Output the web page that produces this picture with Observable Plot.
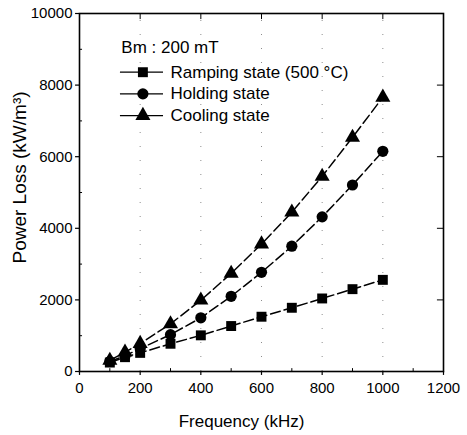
<!DOCTYPE html>
<html>
<head>
<meta charset="utf-8">
<script src="https://cdn.jsdelivr.net/npm/d3@7"></script>
<script src="https://cdn.jsdelivr.net/npm/@observablehq/plot@0.6"></script>
<style>
  html, body { margin: 0; padding: 0; background: #fff; }
  #chart svg { display: block; }
</style>
</head>
<body>
<div id="chart"></div>
<script>
const freq = [100, 150, 200, 300, 400, 500, 600, 700, 800, 900, 1000];
const ramping = [250, 400, 520, 775, 1010, 1270, 1530, 1780, 2040, 2300, 2560];
const holding = [280, 440, 640, 1030, 1500, 2100, 2770, 3500, 4320, 5210, 6150];
const cooling = [310, 540, 780, 1330, 1990, 2740, 3560, 4450, 5450, 6540, 7660];
const seriesNames = ["Ramping state (500 \u00B0C)", "Holding state", "Cooling state"];
const seriesSymbols = ["square", "circle", "triangle"];
const xTicks = [0, 200, 400, 600, 800, 1000, 1200];
const yTicks = [0, 2000, 4000, 6000, 8000, 10000];
const xMinor = [100, 300, 500, 700, 900, 1100];
const yMinor = [1000, 3000, 5000, 7000, 9000];
const gridX = [200, 400, 600, 800, 1000];
const xTitle = "Frequency (kHz)";
const yTitle = "Power Loss (kW/m\u00B3)";
const legendTitle = "Bm : 200 mT";

const rows = [];
[ramping, holding, cooling].forEach((vals, i) => {
  vals.forEach((v, j) => rows.push({series: seriesNames[i], symbol: seriesSymbols[i], f: freq[j], p: v}));
});

// legend layout (data coordinates inside the frame)
const legendRows = seriesNames.map((s, i) => ({series: s, symbol: seriesSymbols[i], y: 8360 - i * 605}));

const font = "Liberation Sans, Arial, sans-serif";

const chart = Plot.plot({
  width: 467,
  height: 435,
  marginLeft: 79,
  marginRight: 24,
  marginTop: 13,
  marginBottom: 64,
  style: {fontFamily: font, fontSize: "15px", color: "#000", background: "#fff", overflow: "visible"},
  x: {type: "linear", domain: [0, 1200]},
  y: {type: "linear", domain: [0, 10000]},
  symbol: {domain: seriesSymbols, range: ["square", "circle", "triangle"]},
  marks: [
    Plot.ruleX(gridX, {y1: 0, y2: 10000, stroke: "#000", strokeOpacity: 0.45, strokeDasharray: "1,13"}),
    Plot.axisX({ticks: xTicks, tickFormat: d3.format("d"), tickSize: 0, tickPadding: 11, fontSize: 15, label: null}),
    Plot.axisY({ticks: yTicks, tickFormat: d3.format("d"), tickSize: 0, tickPadding: 7, fontSize: 15, label: null}),
    Plot.text([xTitle], {frameAnchor: "bottom", textAnchor: "middle", text: d => d, dx: -20, dy: 55, fontSize: 17, fill: "#000"}),
    Plot.text([yTitle], {frameAnchor: "left", textAnchor: "middle", text: d => d, rotate: -90, dx: -60, dy: -15, fontSize: 19, fill: "#000"}),
    // major ticks outward, minor ticks inward
    Plot.ruleX(xTicks, {y1: 0, y2: -110, stroke: "#000", strokeWidth: 1.2, clip: false}),
    Plot.ruleX(xMinor, {y1: 0, y2: 80, stroke: "#000", strokeWidth: 1}),
    Plot.ruleY(yTicks, {x1: -13, x2: 0, stroke: "#000", strokeWidth: 1.2, clip: false}),
    Plot.ruleY(yMinor, {x1: 0, x2: 10, stroke: "#000", strokeWidth: 1}),
    Plot.ruleX(xTicks.slice(1, -1), {y1: 10000, y2: 9830, stroke: "#000", strokeWidth: 1}),
    Plot.ruleY(yTicks.slice(1, -1), {x1: 1200, x2: 1180, stroke: "#000", strokeWidth: 1}),
    Plot.frame({stroke: "#000", strokeWidth: 1.6}),
    Plot.line(rows, {x: "f", y: "p", z: "series", stroke: "#000", strokeWidth: 1.5, strokeDasharray: "10,4"}),
    Plot.dot(rows, {x: "f", y: "p", symbol: "symbol", fill: "#000", stroke: "none", r: 5.6}),
    // legend
    Plot.text([legendTitle], {x: 138, y: 9060, text: d => d, textAnchor: "start", fontSize: 17, fill: "#000"}),
    Plot.ruleY(legendRows, {y: "y", x1: 135, x2: 277, stroke: "#000", strokeWidth: 1.2}),
    Plot.dot(legendRows, {x: 209, y: "y", symbol: "symbol", fill: "#000", stroke: "none", r: 5.6}),
    Plot.text(legendRows, {x: 300, y: "y", text: "series", textAnchor: "start", fontSize: 17, fill: "#000"})
  ]
});
document.getElementById("chart").appendChild(chart);
</script>
</body>
</html>
